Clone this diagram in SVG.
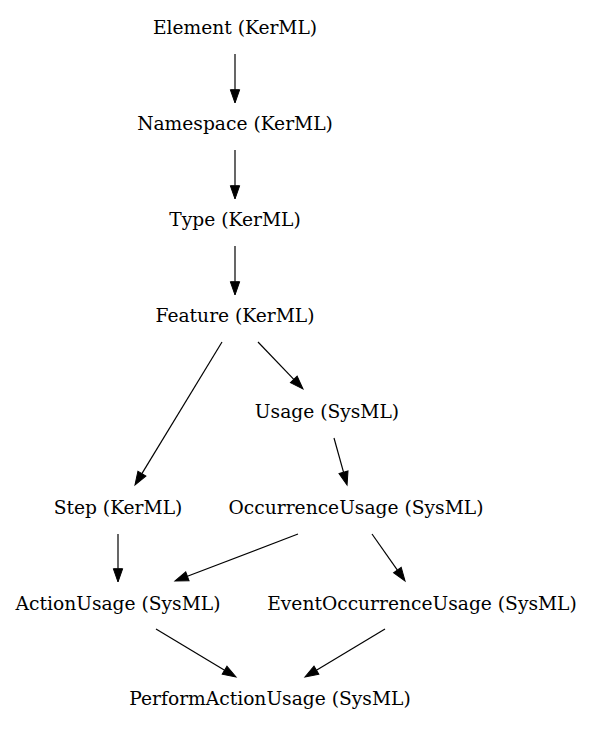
<svg xmlns="http://www.w3.org/2000/svg" width="594" height="731" viewBox="0 0 594 731">
<style>
text{font-family:"DejaVu Serif",serif;font-size:18.67px;fill:#000;text-anchor:middle}
.e{stroke:#000;stroke-width:1.2;fill:none;marker-end:url(#ah)}
</style>
<defs>
<marker id="ah" markerUnits="userSpaceOnUse" markerWidth="14" markerHeight="10" refX="0" refY="4.67" orient="auto" overflow="visible">
<path d="M0,0 L13.3,4.67 L0,9.33 z" fill="#000" stroke="#000" stroke-width="1"/>
</marker>
</defs>
<rect width="594" height="731" fill="#fff"/>
<g id="edges">
<line class="e" x1="235" y1="54" x2="235" y2="89.7"/>
<line class="e" x1="235" y1="150" x2="235" y2="185.7"/>
<line class="e" x1="235" y1="246" x2="235" y2="281.7"/>
<line class="e" x1="222" y1="342" x2="141.9" y2="473.6"/>
<line class="e" x1="258" y1="342" x2="293.8" y2="379.4"/>
<line class="e" x1="334" y1="438" x2="343.5" y2="472.2"/>
<line class="e" x1="118" y1="534" x2="118" y2="568.7"/>
<line class="e" x1="298" y1="534" x2="187.4" y2="576.3"/>
<line class="e" x1="372" y1="534" x2="397.4" y2="570.1"/>
<line class="e" x1="156" y1="629" x2="224.6" y2="670.2"/>
<line class="e" x1="385" y1="629" x2="316.4" y2="670.2"/>
</g>
<g id="n_element"><text x="235" y="34">Element (KerML)</text></g>
<g id="n_namespace"><text x="235" y="130">Namespace (KerML)</text></g>
<g id="n_type"><text x="235" y="226">Type (KerML)</text></g>
<g id="n_feature"><text x="235" y="322">Feature (KerML)</text></g>
<g id="n_usage"><text x="327" y="418">Usage (SysML)</text></g>
<g id="n_step"><text x="118" y="514">Step (KerML)</text></g>
<g id="n_occurrence"><text x="356" y="514">OccurrenceUsage (SysML)</text></g>
<g id="n_action"><text x="118" y="610">ActionUsage (SysML)</text></g>
<g id="n_event"><text x="422" y="610">EventOccurrenceUsage (SysML)</text></g>
<g id="n_perform"><text x="270" y="705">PerformActionUsage (SysML)</text></g>
</svg>
